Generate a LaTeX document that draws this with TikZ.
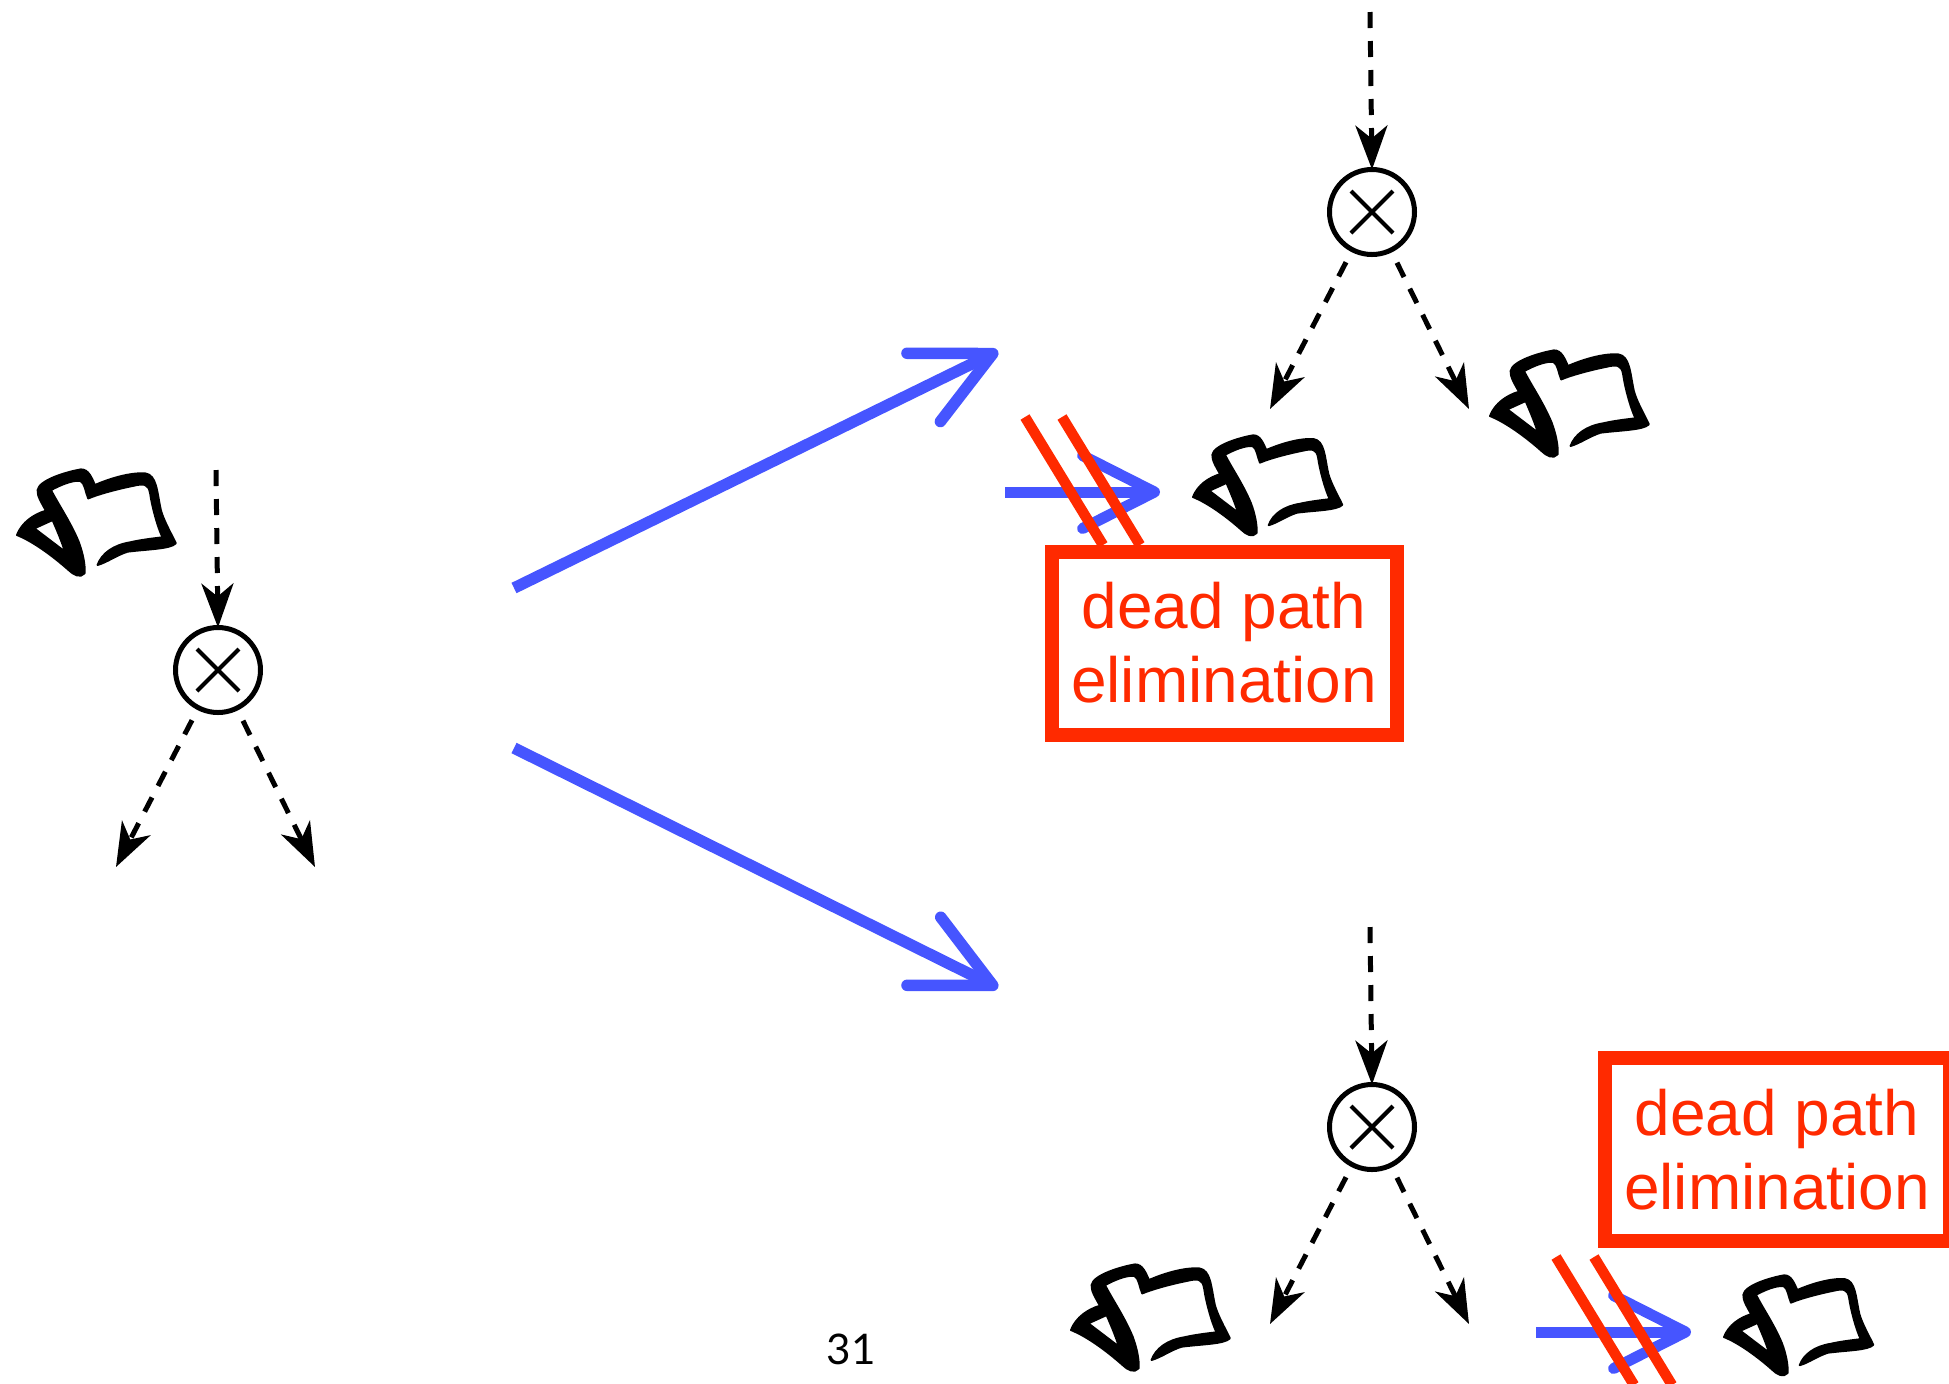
\documentclass[tikz,border=0pt]{standalone}
\usepackage{fontspec}
\setmainfont{Liberation Sans}
\newfontfamily\pagefont{Lato}
\usetikzlibrary{arrows.meta}
\definecolor{deadred}{HTML}{FF2A00}
\definecolor{moveblue}{HTML}{4655FF}
\tikzset{gate/.style={circle, draw, line width=.5mm, minimum size=8.5mm, inner sep=0, outer sep=0,
   path picture={\draw[line width=.42mm] (-2.1mm,-2.1mm) -- (2.1mm,2.1mm) (-2.1mm,2.1mm) -- (2.1mm,-2.1mm);}},
 flow/.style={line width=.5mm, dash pattern=on 1.6mm off 1.3mm, -{Stealth[length=4.4mm,width=3.2mm,inset=1.3mm]}},
 move/.style={moveblue, line width=1.15mm, -{Straight Barb[length=7.7mm,width=7.6mm,line cap=round,line join=round]}},
 shortmove/.style={moveblue, line width=1.1mm, -{Straight Barb[length=7.2mm,width=7.3mm,line cap=round,line join=round]}},
 strike/.style={deadred, line width=1.05mm},
 deadbox/.style={draw=deadred, text=deadred, line width=1.4mm, fill=white, minimum width=34.5mm, minimum height=18.3mm,
   align=center, inner sep=0, font=\fontsize{18.2}{21}\selectfont},
 pics/folder/.style={code={
   % drawn from the left tip of the back page
   \filldraw[even odd rule, line width=.2mm, line join=round, x=.0333mm, y=-.0333mm]
     (0,0) .. controls (15,-38) and (50,-62) .. (87,-73)
     .. controls (75,-95) and (60,-118) .. (62,-135)
     .. controls (66,-165) and (150,-190) .. (192,-197)
     .. controls (215,-198) and (225,-170) .. (234,-150)
     .. controls (280,-170) and (340,-188) .. (385,-185)
     .. controls (420,-180) and (420,-130) .. (432,-75)
     .. controls (440,-45) and (460,-10) .. (477,25)
     .. controls (460,42) and (395,42) .. (332,50)
     .. controls (300,60) and (270,82) .. (242,90)
     .. controls (255,55) and (290,30) .. (340,22)
     .. controls (370,15) and (410,10) .. (437,7)
     .. controls (420,-30) and (405,-90) .. (400,-125)
     .. controls (395,-155) and (380,-155) .. (350,-148)
     .. controls (310,-140) and (250,-125) .. (214,-110)
     .. controls (205,-130) and (205,-155) .. (190,-163)
     .. controls (165,-165) and (130,-150) .. (102,-135)
     .. controls (125,-90) and (160,-40) .. (185,20)
     .. controls (198,55) and (205,90) .. (203,115)
     .. controls (190,130) and (170,120) .. (155,105)
     .. controls (110,65) and (50,20) .. (0,0) -- cycle
     (52,-20) -- (107,-45) .. controls (120,-15) and (135,20) .. (144,50) -- cycle;
 }},
}

\begin{document}
\begin{tikzpicture}[x=.1mm, y=-.1mm]
        \useasboundingbox (0, 0) rectangle (1949, 1383);
        % gates with their incoming and outgoing flows
        \foreach \gatename/\x/\y in {gatea/218/670, gateb/1372/212, gatec/1372/1127} {
            \node[gate] (\gatename) at (\x, \y) {};
            \coordinate (\gatename in) at (\x-2, \y-200);
            \coordinate (\gatename left) at (\x-102, \y+197);
            \coordinate (\gatename right) at (\x+97, \y+197);
            \draw[flow] (\gatename in) -- (\gatename.north);
            \draw[flow, shorten <=1.4mm] (\gatename) -- (\gatename left);
            \draw[flow, shorten <=1.4mm] (\gatename) -- (\gatename right);
        }
        \foreach \x/\y/\s in {17/535/1, 1193/497/.94, 1490/416/1, 1071/1330/1, 1724/1337/.94} {
            \pic[scale=\s] at (\x, \y) {folder};
        }
        % moves from the left state
        \coordinate (upstart) at (514, 588);
        \coordinate (upend) at (998, 351);
        \coordinate (downstart) at (514, 748);
        \coordinate (downend) at (998, 988);
        \draw[move] (upstart) -- (upend);
        \draw[move] (downstart) -- (downend);
        % dead paths
        \coordinate (deadastart) at (1005, 492);
        \coordinate (deadaend) at (1160, 492);
        \coordinate (deadbstart) at (1536, 1332);
        \coordinate (deadbend) at (1691, 1332);
        \draw[shortmove] (deadastart) -- (deadaend);
        \draw[shortmove] (deadbstart) -- (deadbend);
        \foreach \x/\y in {1025/417, 1062/417, 1556/1257, 1594/1257} {
            \draw[strike] (\x, \y) -- ++(78, 128);
        }
        \node[deadbox] (deada) at (1224, 643) {dead path\\elimination};
        \node[deadbox] (deadb) at (1777, 1149.5) {dead path\\elimination};
        \node[font=\pagefont\fontsize{12}{14}\selectfont, inner sep=0] (pagenum) at (851, 1349) {31};
    \end{tikzpicture}
\end{document}
